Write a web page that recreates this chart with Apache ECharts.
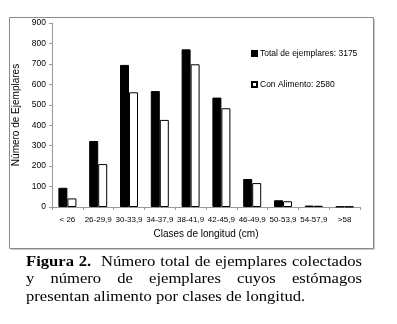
<!DOCTYPE html>
<html>
<head>
<meta charset="utf-8">
<script src="https://cdn.jsdelivr.net/npm/echarts@6/dist/echarts.min.js"></script>
<style>
  html, body { margin: 0; padding: 0; background: #fff; }
  #wrap { position: relative; width: 397px; height: 324px; overflow: hidden; }
  #chart { position: absolute; left: 0; top: 0; width: 397px; height: 324px; }
  #caption {
    position: absolute; left: 26px; top: 252px; width: 336px;
    font-family: 'Liberation Serif', 'Times New Roman', serif;
    font-size: 16.6px; line-height: 21.2px; color: #000;
    transform: scaleY(0.85); transform-origin: 0 0;
  }
  #caption .j { text-align: justify; text-align-last: justify; white-space: nowrap; }
  #caption .l { text-align: left; white-space: nowrap; }
</style>
</head>
<body>
<div id="wrap">
  <div id="chart"></div>
  <div id="caption">
    <div class="j"><b>Figura 2.</b>&nbsp; Número total de ejemplares colectados</div>
    <div class="j">y número de ejemplares cuyos estómagos</div>
    <div class="l">presentan alimento por clases de longitud.</div>
  </div>
</div>
<script>
const categories = ['< 26', '26-29,9', '30-33,9', '34-37,9', '38-41,9', '42-45,9', '46-49,9', '50-53,9', '54-57,9', '>58'];
const totalEjemplares = [94, 323, 695, 567, 771, 535, 137, 33, 7, 2];
const conAlimento = [42, 210, 561, 426, 698, 483, 117, 28, 6, 2];
const seriesNames = ['Total de ejemplares: 3175', 'Con Alimento: 2580'];

const chart = echarts.init(document.getElementById('chart'));

const labelFont = "'Liberation Sans', Arial, sans-serif";

const option = {
  animation: false,
  textStyle: { fontFamily: labelFont },
  graphic: [
    {
      type: 'rect',
      shape: { x: 9.5, y: 17.5, width: 364, height: 231 },
      style: { fill: 'none', stroke: '#8a8a8a', lineWidth: 1 }
    },
    {
      type: 'line',
      shape: { x1: 374.5, y1: 19, x2: 374.5, y2: 249.5 },
      style: { stroke: '#c8c8c8', lineWidth: 1 }
    },
    {
      type: 'line',
      shape: { x1: 11, y1: 249.5, x2: 374.5, y2: 249.5 },
      style: { stroke: '#c8c8c8', lineWidth: 1 }
    }
  ],
  legend: {
    data: seriesNames,
    orient: 'vertical',
    left: 246,
    top: 44,
    itemWidth: 5,
    itemHeight: 5,
    itemGap: 22,
    icon: 'rect',
    textStyle: { fontSize: 8.5, color: '#000', fontFamily: labelFont, padding: [0, 0, 0, -2] }
  },
  grid: {
    left: 52,
    right: 37,
    top: 23,
    bottom: 117
  },
  xAxis: {
    type: 'category',
    data: categories,
    name: 'Clases de longitud (cm)',
    nameLocation: 'middle',
    nameGap: 22,
    nameTextStyle: { fontSize: 10, color: '#000' },
    axisLine: { lineStyle: { color: '#9a9a9a', width: 1 } },
    axisTick: { show: true, length: 3, lineStyle: { color: '#9a9a9a' } },
    axisLabel: { interval: 0, fontSize: 8, color: '#000', margin: 9 }
  },
  yAxis: {
    type: 'value',
    min: 0,
    max: 900,
    interval: 100,
    name: 'Número de Ejemplares',
    nameLocation: 'middle',
    nameGap: 29,
    nameTextStyle: { fontSize: 10, color: '#000' },
    axisLine: { show: true, lineStyle: { color: '#9a9a9a', width: 1 } },
    axisTick: { show: true, length: 3, lineStyle: { color: '#9a9a9a' } },
    axisLabel: { fontSize: 8.5, color: '#000', margin: 6 },
    splitLine: { show: false }
  },
  series: [
    {
      name: seriesNames[0],
      type: 'bar',
      data: totalEjemplares,
      barWidth: 9,
      barGap: '0%',
      itemStyle: { color: '#000', borderColor: '#000', borderWidth: 1 }
    },
    {
      name: seriesNames[1],
      type: 'bar',
      data: conAlimento,
      barWidth: 9,
      itemStyle: { color: '#fff', borderColor: '#000', borderWidth: 1 }
    }
  ]
};

chart.setOption(option);
</script>
</body>
</html>
